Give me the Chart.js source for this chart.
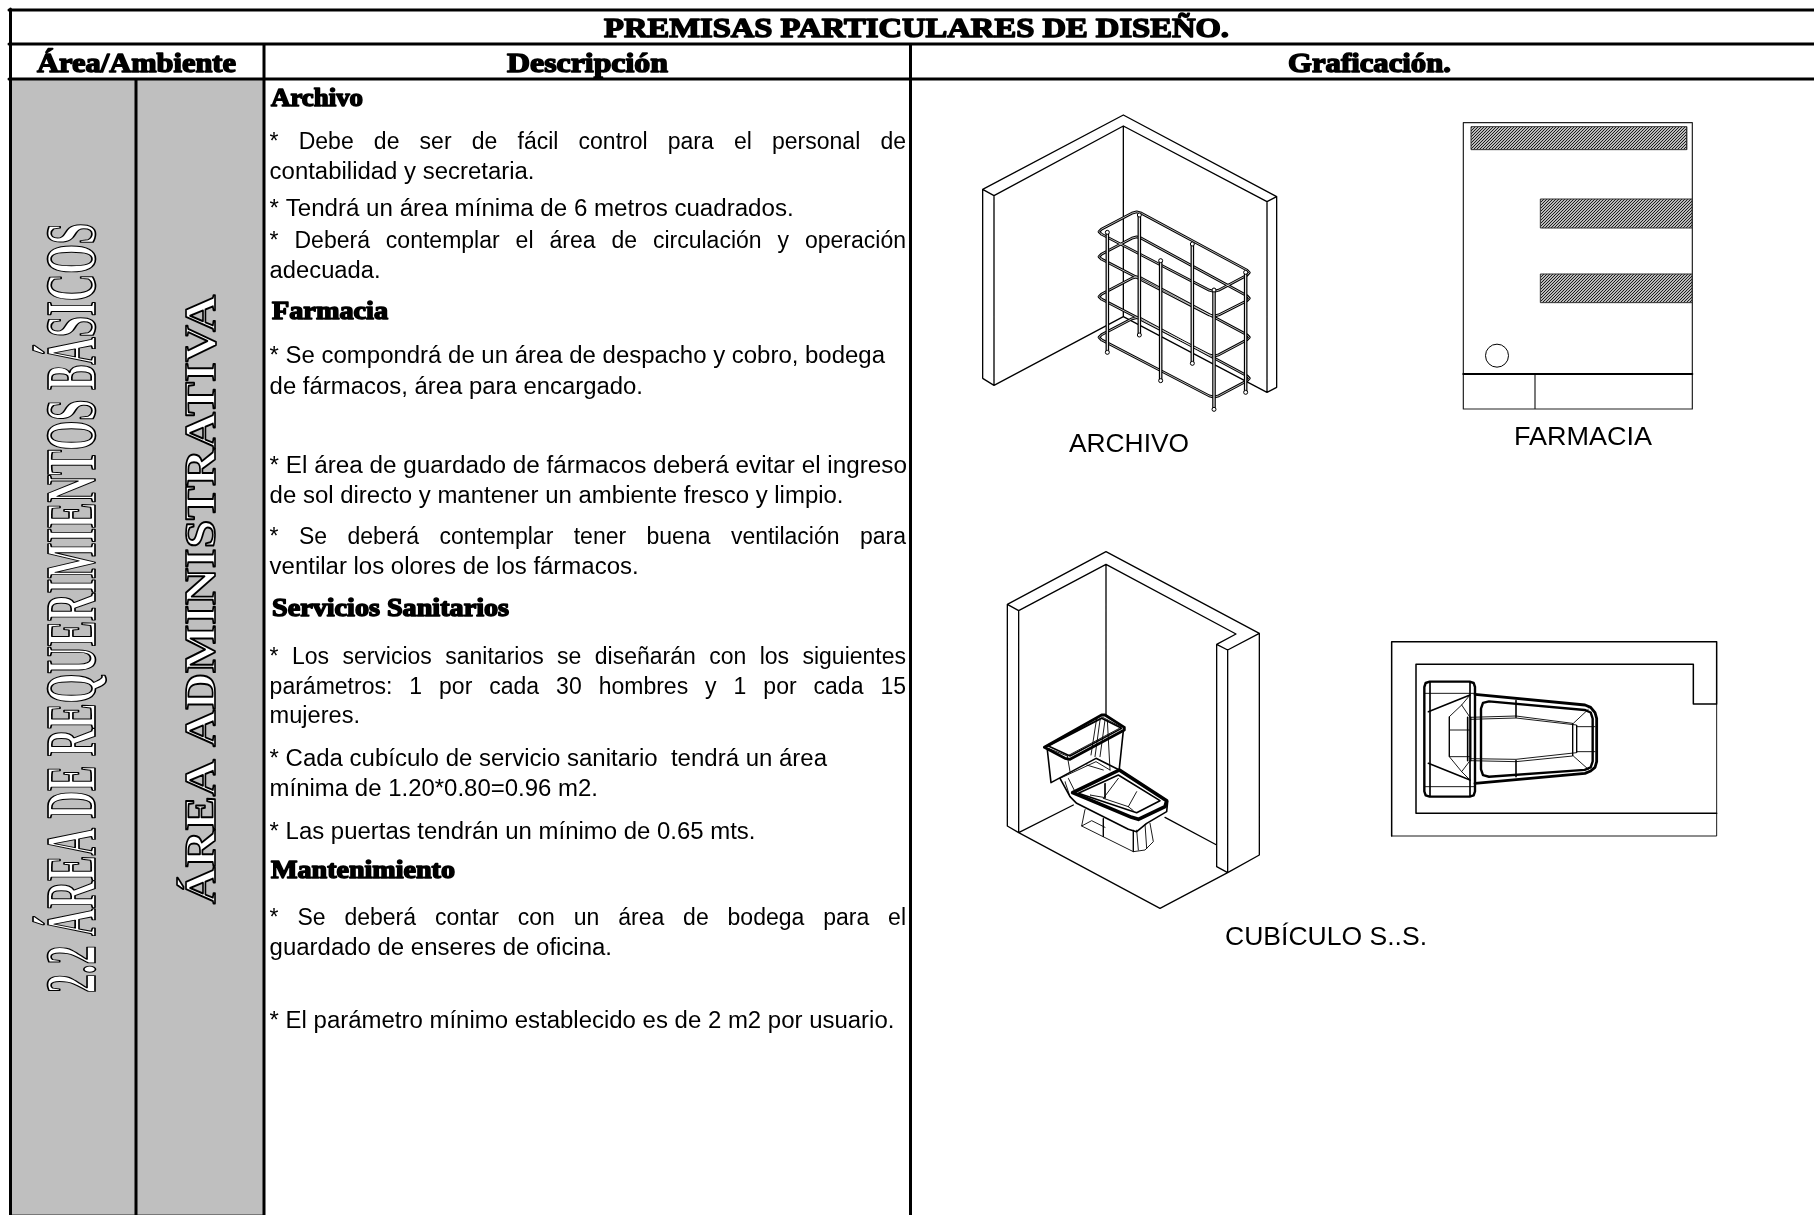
<!DOCTYPE html>
<html lang="es">
<head>
<meta charset="utf-8">
<title>Premisas particulares de diseño</title>
<script src="https://cdn.jsdelivr.net/npm/chart.js@4"></script>
<style>
  html, body { margin: 0; background: #fff; }
  canvas { display: block; }
</style>
</head>
<body>
<canvas id="sheet" width="1814" height="1215"></canvas>
<script>
// table rules, sheet pixels
const TABLE_RULES = [
  [[9, 10], [1814, 10]], [[9, 44], [1814, 44]], [[9, 79], [1814, 79]],
  [[10.5, 9], [10.5, 1215]], [[136, 79], [136, 1215]], [[264, 44], [264, 1215]], [[910.5, 44], [910.5, 1215]],
];
const GRAY_CELL = [[10, 79], [264, 79], [264, 1215], [10, 1215], [10, 79]];

const TITLE_TEXTS = [
  ['PREMISAS PARTICULARES DE DISEÑO.', 604, 37, 625],
  ['Área/Ambiente', 37, 71.5, 199],
  ['Descripción', 507, 71.5, 161],
  ['Graficación.', 1288, 71.5, 163],
];
const HEADING_TEXTS = [
  ['Archivo', 271, 106, 92],
  ['Farmacia', 272, 319, 116],
  ['Servicios Sanitarios', 272, 616, 237],
  ['Mantenimiento', 271, 877.7, 184],
];
// text, baseline, right edge, justified
const BODY_LINES = [
  ['* Debe de ser de fácil control para el personal de', 148.7, 906, true],
  ['contabilidad y secretaria.', 179, 534.5, false],
  ['* Tendrá un área mínima de 6 metros cuadrados.', 216, 793.7, false],
  ['* Deberá contemplar el área de circulación y operación', 247.5, 906, true],
  ['adecuada.', 278, 380.6, false],
  ['* Se compondrá de un área de despacho y cobro, bodega', 363, 885, false],
  ['de fármacos, área para encargado.', 393.5, 643, false],
  ['* El área de guardado de fármacos deberá evitar el ingreso', 472.6, 907, false],
  ['de sol directo y mantener un ambiente fresco y limpio.', 502.7, 843.5, false],
  ['* Se deberá contemplar tener buena ventilación para', 544.4, 906, true],
  ['ventilar los olores de los fármacos.', 574.4, 638.6, false],
  ['* Los servicios sanitarios se diseñarán con los siguientes', 663.5, 906, true],
  ['parámetros: 1 por cada 30 hombres y 1 por cada 15', 693.6, 906, true],
  ['mujeres.', 722.5, 360, false],
  ['* Cada cubículo de servicio sanitario  tendrá un área', 766, 827, false],
  ['mínima de 1.20*0.80=0.96 m2.', 796, 598, false],
  ['* Las puertas tendrán un mínimo de 0.65 mts.', 839.4, 755.5, false],
  ['* Se deberá contar con un área de bodega para el', 925, 906, true],
  ['guardado de enseres de oficina.', 955, 612, false],
  ['* El parámetro mínimo establecido es de 2 m2 por usuario.', 1028, 894.4, false],
];
// text, left, baseline, width
const DRAWING_LABELS = [
  ['ARCHIVO', 1069, 452, 120],
  ['FARMACIA', 1514, 445, 138],
  ['CUBÍCULO S..S.', 1225, 945, 202],
];
// text, baseline x, bottom y, length, font size
const VERTICAL_TEXTS = [
  ['2.2 ÁREA DE REQUERIMIENTOS BÁSICOS', 95, 993, 770, 71],
  ['ÁREA ADMINISTRATIVA', 215, 904, 609, 44],
];

// drawing coordinates are read in 3x crops: origin + value / 3
const ARCHIVO_ORIGIN = [960, 100];
const ARCHIVO_WALLS = [
  [[68, 268], [490, 45], [950, 290], [921, 305], [490, 78], [102, 287], [68, 268], [68, 835], [102, 856], [102, 287]],
  [[490, 78], [490, 650], [102, 856]],
  [[490, 650], [921, 877], [950, 862], [950, 290]],
  [[921, 305], [921, 877]],
];
const ARCHIVO_SHELVES = [
  [[410, 395], [530, 332], [875, 518], [762, 578]],
  [[410, 470], [530, 407], [875, 595], [762, 652]],
  [[410, 590], [530, 527], [875, 712], [762, 772]],
  [[410, 712], [530, 649], [875, 835], [762, 895]],
];
const ARCHIVO_POSTS = [
  [[602, 482], [602, 842]],
  [[697, 432], [697, 790]],
  [[538, 345], [538, 705]],
  [[442, 397], [442, 757]],
  [[857, 517], [857, 877]],
  [[762, 570], [762, 928]],
];

const FARMACIA_ORIGIN = [1440, 100];
const FARMACIA_LINES = [
  [[70, 68], [757, 68], [757, 927], [70, 927], [70, 68]],
  [[285, 822], [285, 927]],
];
const FARMACIA_COUNTER = [[[70, 822], [757, 822]]];
const FARMACIA_SHELVES = [
  [[93, 80], [740, 80], [740, 149], [93, 149], [93, 80]],
  [[301, 297], [757, 297], [757, 384], [301, 384], [301, 297]],
  [[301, 522], [757, 522], [757, 608], [301, 608], [301, 522]],
];
const FARMACIA_CIRCLE = [[171, 767]];

const CUBICULO_ORIGIN = [990, 540];
const CUBICULO_WALLS = [
  [[52, 858], [52, 193], [348, 35], [808, 280], [713, 330], [680, 313], [738, 282], [348, 73], [86, 212], [52, 193]],
  [[86, 212], [86, 878], [52, 858]],
  [[348, 73], [348, 525]],
  [[680, 313], [680, 980], [713, 998], [808, 945], [808, 280]],
  [[713, 330], [713, 998], [510, 1105], [86, 878], [250, 795]],
  [[525, 832], [680, 915]],
];
const CUBICULO_THIN = [
  [[285, 808], [275, 858], [430, 935], [465, 930], [490, 905], [480, 850]],
  [[275, 858], [305, 842], [345, 862]],
  [[340, 835], [340, 890]],
  [[430, 870], [430, 935]], [[440, 870], [445, 930]], [[465, 852], [470, 925]],
  [[340, 775], [385, 715]], [[340, 775], [415, 800]], [[415, 800], [440, 755]],
  [[300, 765], [340, 772]], [[345, 730], [345, 775]],
  [[415, 800], [430, 812]],
  [[330, 540], [315, 650]], [[345, 540], [330, 650]], [[320, 535], [303, 645]],
  [[352, 540], [360, 690]],
  [[210, 715], [318, 665], [360, 690]],
  [[232, 648], [388, 565]], [[180, 612], [338, 532], [392, 560]],
  [[175, 625], [232, 648], [240, 695]],
  [[225, 725], [240, 770]], [[235, 715], [255, 755]],
  [[290, 675], [340, 690]],
];
const CUBICULO_MEDIUM = [
  [[172, 630], [183, 728], [318, 655], [388, 690]],
  [[400, 572], [388, 685]],
  [[210, 715], [240, 770], [260, 790], [415, 868], [440, 875], [470, 850], [530, 815], [533, 785]],
  [[265, 760], [385, 705], [510, 782], [440, 818], [265, 760]],
  [[175, 618], [335, 535], [395, 565], [240, 648], [175, 618]],
];
const CUBICULO_TANK = [
  [[163, 622], [335, 525], [345, 525], [403, 562], [403, 570], [240, 658], [225, 655], [163, 622]],
];
const CUBICULO_SEAT = [
  [[248, 758], [388, 690], [530, 782], [525, 800], [445, 838], [425, 832], [248, 758]],
];

const PLANTA_ORIGIN = [1380, 630];
const PLANTA_WALLS = [
  [[35, 618], [35, 35], [1010, 35], [1010, 222], [940, 222], [940, 103], [108, 103], [108, 550], [1010, 550]],
];
const PLANTA_THIN = [
  [[35, 618], [1010, 618], [1010, 222]],
  [[133, 190], [285, 190]], [[133, 470], [285, 470]], [[150, 155], [150, 500]], [[270, 155], [270, 500]],
  [[208, 260], [245, 225], [270, 195]], [[208, 260], [208, 380], [245, 425], [270, 450]],
  [[208, 300], [270, 300]], [[208, 380], [270, 380]],
  [[270, 262], [408, 258], [578, 280], [578, 378], [408, 395], [270, 392]],
  [[270, 268], [408, 264], [590, 285], [590, 368], [408, 388], [270, 386]],
  [[580, 280], [625, 238]], [[590, 290], [645, 290]], [[580, 378], [625, 418]], [[590, 365], [645, 365]],
  [[245, 225], [270, 262]], [[245, 425], [270, 392]],
];
const PLANTA_MEDIUM = [
  [[145, 245], [270, 195]], [[145, 400], [270, 450]],
  [[408, 212], [408, 262]], [[408, 392], [408, 440]],
  [[263, 262], [263, 392]], [[272, 262], [272, 392]],
];
const PLANTA_TANK = [[133, 155], [285, 155], [285, 500], [133, 500]];
const PLANTA_BOWL = [
  [[285, 193], [615, 225], [632, 232], [645, 248], [650, 265], [650, 395], [645, 412], [632, 423], [615, 430], [285, 460]],
];
const PLANTA_BOWL_INNER = [[303, 212], [638, 242], [638, 418], [303, 442]];

const toSheet = (origin, lines) => lines.map(line => line.map(([x, y]) => [origin[0] + x / 3, origin[1] + y / 3]));

// several polylines in one dataset, separated by a gap
const toPoints = (lines) => {
  const points = [];
  lines.forEach(line => {
    line.forEach(([x, y]) => points.push({ x, y }));
    points.push({ x: null, y: null });
  });
  return points;
};

const stroke = (lines, width, color = '#000') => ({
  data: toPoints(lines),
  showLine: true,
  borderColor: color,
  borderWidth: width,
  borderJoinStyle: 'round',
  borderCapStyle: 'round',
  pointRadius: 0,
  fill: false,
});

const area = (polygon, fillColor) => ({
  data: polygon.map(([x, y]) => ({ x, y })),
  showLine: true,
  borderColor: '#333',
  borderWidth: 1,
  backgroundColor: fillColor,
  pointRadius: 0,
  fill: 'shape',
});

const hatchPattern = () => {
  const tile = document.createElement('canvas');
  tile.width = 3;
  tile.height = 3;
  const ctx = tile.getContext('2d');
  ctx.fillStyle = '#fff';
  ctx.fillRect(0, 0, 3, 3);
  ctx.strokeStyle = '#111';
  ctx.lineWidth = 1.1;
  ctx.beginPath();
  ctx.moveTo(-1, 1); ctx.lineTo(1, -1);
  ctx.moveTo(0, 3); ctx.lineTo(3, 0);
  ctx.moveTo(2, 4); ctx.lineTo(4, 2);
  ctx.stroke();
  return ctx.createPattern(tile, 'repeat');
};

// cut the corners of a shape so that it reads as a bent tube
const roundedLoop = (corners, r) => {
  const out = [];
  corners.forEach((c, i) => {
    const prev = corners[(i + corners.length - 1) % corners.length];
    const next = corners[(i + 1) % corners.length];
    const toward = (p) => {
      const d = Math.hypot(p[0] - c[0], p[1] - c[1]);
      return [c[0] + (p[0] - c[0]) * r / d, c[1] + (p[1] - c[1]) * r / d];
    };
    const a = toward(prev);
    const b = toward(next);
    out.push(a, [(a[0] + b[0] + c[0] * 2) / 4, (a[1] + b[1] + c[1] * 2) / 4], b);
  });
  out.push(out[0]);
  return out;
};

const shelfLines = toSheet(ARCHIVO_ORIGIN, ARCHIVO_SHELVES.map(s => roundedLoop(s, 16)));
const postLines = toSheet(ARCHIVO_ORIGIN, ARCHIVO_POSTS);
const postEnds = {
  data: toPoints(postLines).filter(p => p.x !== null),
  showLine: false,
  pointRadius: 2,
  pointBackgroundColor: '#fff',
  pointBorderColor: '#000',
  pointBorderWidth: 1,
};
const hatch = hatchPattern();

// painted in this order, first one lowest
const layers = [
  area(GRAY_CELL, '#bfbfbf'),
  stroke(TABLE_RULES, 3),
  stroke(toSheet(ARCHIVO_ORIGIN, ARCHIVO_WALLS), 1.3),
  stroke(shelfLines, 2.8),
  stroke(shelfLines, 0.7, '#fff'),
  stroke(postLines, 3.6),
  stroke(postLines, 1.1, '#fff'),
  postEnds,
  stroke(toSheet(FARMACIA_ORIGIN, FARMACIA_LINES), 1.2, '#222'),
  stroke(toSheet(FARMACIA_ORIGIN, FARMACIA_COUNTER), 2),
  ...toSheet(FARMACIA_ORIGIN, FARMACIA_SHELVES).map(s => area(s, hatch)),
  {
    data: toPoints(toSheet(FARMACIA_ORIGIN, [FARMACIA_CIRCLE])).filter(p => p.x !== null),
    showLine: false,
    pointRadius: 11.5,
    pointBackgroundColor: '#fff',
    pointBorderColor: '#000',
    pointBorderWidth: 1,
  },
  stroke(toSheet(CUBICULO_ORIGIN, CUBICULO_WALLS), 1.3),
  stroke(toSheet(CUBICULO_ORIGIN, CUBICULO_THIN), 0.9),
  stroke(toSheet(CUBICULO_ORIGIN, CUBICULO_MEDIUM), 1.6),
  stroke(toSheet(CUBICULO_ORIGIN, CUBICULO_TANK), 2.8),
  stroke(toSheet(CUBICULO_ORIGIN, CUBICULO_SEAT), 3.6),
  stroke(toSheet(PLANTA_ORIGIN, PLANTA_WALLS), 1.5),
  stroke(toSheet(PLANTA_ORIGIN, PLANTA_THIN), 0.9),
  stroke(toSheet(PLANTA_ORIGIN, PLANTA_MEDIUM), 1.6),
  stroke(toSheet(PLANTA_ORIGIN, [roundedLoop(PLANTA_TANK, 16), roundedLoop(PLANTA_BOWL_INNER, 24)]), 2.4),
  stroke(toSheet(PLANTA_ORIGIN, PLANTA_BOWL), 2.8),
];

// horizontally fit a string to the width it has on the sheet
const drawFitted = (ctx, text, x, y, width, font, outline) => {
  ctx.save();
  ctx.font = font;
  const natural = ctx.measureText(text).width;
  ctx.translate(x, y);
  ctx.scale(width / natural, 1);
  ctx.fillStyle = '#000';
  ctx.fillText(text, 0, 0);
  if (outline) {
    ctx.strokeStyle = '#000';
    ctx.lineWidth = outline;
    ctx.lineJoin = 'round';
    ctx.strokeText(text, 0, 0);
  }
  ctx.restore();
};

const sheetText = {
  id: 'sheetText',
  afterDatasetsDraw(chart) {
    const { ctx, scales: { x: xs, y: ys } } = chart;
    ctx.save();
    ctx.textBaseline = 'alphabetic';
    TITLE_TEXTS.forEach(([t, x, y, w]) => {
      drawFitted(ctx, t, xs.getPixelForValue(x), ys.getPixelForValue(y), w, 'bold 28px "Liberation Serif"', 1.5);
    });
    HEADING_TEXTS.forEach(([t, x, y, w]) => {
      drawFitted(ctx, t, xs.getPixelForValue(x), ys.getPixelForValue(y), w, 'bold 25px "Liberation Serif"', 1.5);
    });
    const left = xs.getPixelForValue(269.6);
    BODY_LINES.forEach(([t, y, right, justified]) => {
      const font = '23px "Liberation Sans"';
      const target = xs.getPixelForValue(right) - left;
      if (justified) {
        ctx.save();
        ctx.font = font;
        ctx.fillStyle = '#000';
        const gaps = t.split(' ').length - 1;
        ctx.wordSpacing = `${(target - ctx.measureText(t).width) / gaps}px`;
        ctx.fillText(t, left, ys.getPixelForValue(y));
        ctx.restore();
      } else {
        drawFitted(ctx, t, left, ys.getPixelForValue(y), target, font);
      }
    });
    DRAWING_LABELS.forEach(([t, x, y, w]) => {
      drawFitted(ctx, t, xs.getPixelForValue(x), ys.getPixelForValue(y), w, '25px "Liberation Sans"');
    });
    VERTICAL_TEXTS.forEach(([t, x, y, len, size]) => {
      ctx.save();
      ctx.translate(xs.getPixelForValue(x), ys.getPixelForValue(y));
      ctx.rotate(-Math.PI / 2);
      ctx.font = `bold ${size}px "Liberation Serif"`;
      ctx.scale(len / ctx.measureText(t).width, 1);
      ctx.fillStyle = '#fff';
      ctx.fillText(t, 0, 0);
      ctx.strokeStyle = '#000';
      ctx.lineWidth = 1.7;
      ctx.lineJoin = 'round';
      ctx.strokeText(t, 0, 0);
      ctx.restore();
    });
    ctx.restore();
  },
};

new Chart(document.querySelector('#sheet').getContext('2d'), {
  type: 'scatter',
  data: { datasets: layers.slice().reverse() },
  plugins: [sheetText],
  options: {
    responsive: false,
    animation: false,
    events: [],
    layout: { padding: 0, autoPadding: false },
    plugins: { legend: { display: false }, tooltip: { enabled: false } },
    scales: {
      x: { type: 'linear', display: false, min: 0, max: 1814 },
      y: { type: 'linear', display: false, min: 0, max: 1215, reverse: true },
    },
  },
});
</script>
</body>
</html>
